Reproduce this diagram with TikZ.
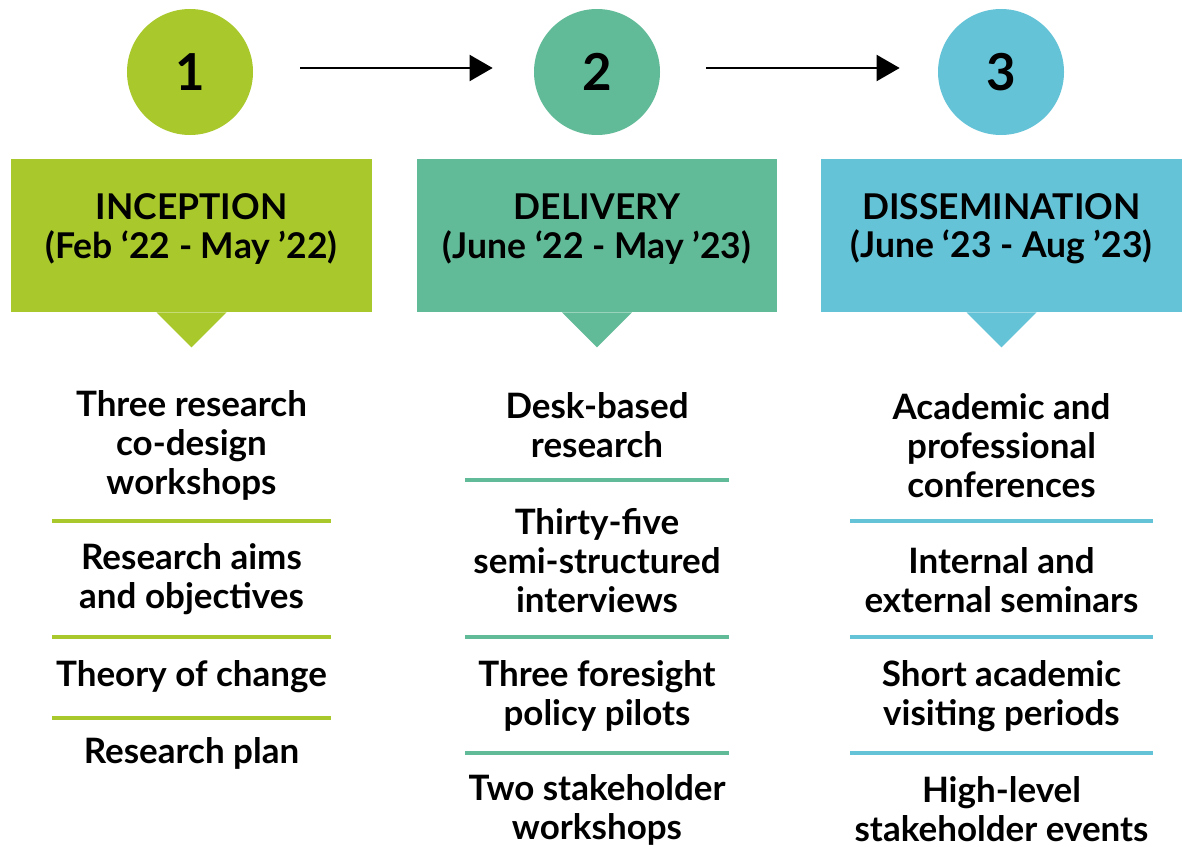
\documentclass[tikz,border=0pt]{standalone}
\usepackage{fontspec}
\setmainfont{Lato}
\usetikzlibrary{arrows.meta}

\definecolor{lime}{RGB}{168,200,43}
\definecolor{jade}{RGB}{98,187,152}
\definecolor{sky}{RGB}{100,195,215}

\begin{document}
\begin{tikzpicture}[x=0.2mm,y=-0.2mm, font=\bfseries]
	\tikzstyle{stage}=[shape=circle,minimum size=25.2mm,inner sep=0pt,font=\fontsize{29}{30}\selectfont\bfseries]
	\tikzstyle{phase}=[shape=rectangle,minimum height=30.6mm,inner sep=0pt]
	\tikzstyle{head}=[align=center,font=\fontsize{20.2}{21.8}\selectfont\bfseries]
	\tikzstyle{item}=[align=center,font=\fontsize{19.9}{22.2}\selectfont\bfseries]
	\tikzstyle{flow}=[line width=0.4mm,-{Triangle[length=4.6mm,width=5.2mm]}]
	\tikzstyle{rule}=[line width=0.8mm]
	
	\useasboundingbox (0,0) rectangle (1182,847);
	
	% stage numbers
	\node[stage,fill=lime](c1) at (190,72){1};
	\node[stage,fill=jade](c2) at (597,72){2};
	\node[stage,fill=sky](c3) at (1001,72){3};
	
	\draw[flow,shorten <=47*0.2mm,shorten >=41*0.2mm] ([yshift=0.8mm]c1.east) -- ([yshift=0.8mm]c2.west);
	\draw[flow,shorten <=46*0.2mm,shorten >=38*0.2mm] ([yshift=0.8mm]c2.east) -- ([yshift=0.8mm]c3.west);
	
	% phase boxes with their pointers
	\node[phase,fill=lime,minimum width=72.2mm](inc) at (191.5,235.5){};
	\node[phase,fill=jade,minimum width=72mm](del) at (597,235.5){};
	\node[phase,fill=sky,minimum width=72.2mm](dis) at (1001.5,235.5){};
	
	\fill[lime] ([xshift=-7mm]inc.south) -- ++(35,35) -- ++(35,-35) -- cycle;
	\fill[jade] ([xshift=-7mm]del.south) -- ++(35,35) -- ++(35,-35) -- cycle;
	\fill[sky] ([xshift=-7mm]dis.south) -- ++(35,35) -- ++(35,-35) -- cycle;
	
	\node[head](incT) at (191.5,229){INCEPTION\\(Feb ‘22 - May ’22)};
	\node[head](delT) at (597,229){DELIVERY\\(June ‘22 - May ’23)};
	\node[head](disT) at (1001.5,229){DISSEMINATION\\(June ‘23 - Aug ’23)};
	
	% inception
	\node[item](i1) at (191.5,445){Three research\\co-design\\workshops};
	\node[item](i2) at (191.5,579.5){Research aims\\and objectives};
	\node[item](i3) at (191.5,677){Theory of change};
	\node[item](i4) at (191.5,753){Research plan};
	
	\coordinate(ia) at (52,521);
	\coordinate(ib) at (52,637);
	\coordinate(ic) at (52,718);
	\draw[rule,lime] (ia) -- ++(279,0);
	\draw[rule,lime] (ib) -- ++(279,0);
	\draw[rule,lime] (ic) -- ++(279,0);
	
	% delivery
	\node[item](d1) at (597,425){Desk-based\\research};
	\node[item](d2) at (597,560.5){Thirty-five\\semi-structured\\interviews};
	\node[item](d3) at (597,696){Three foresight\\policy pilots};
	\node[item](d4) at (597,809.5){Two stakeholder\\workshops};
	
	\coordinate(da) at (465,480);
	\coordinate(db) at (465,637);
	\coordinate(dc) at (465,753);
	\draw[rule,jade] (da) -- ++(264,0);
	\draw[rule,jade] (db) -- ++(264,0);
	\draw[rule,jade] (dc) -- ++(264,0);
	
	% dissemination
	\node[item](s1) at (1001.5,446){Academic and\\professional\\conferences};
	\node[item](s2) at (1001.5,580.5){Internal and\\external seminars};
	\node[item](s3) at (1001.5,696){Short academic\\visiting periods};
	\node[item](s4) at (1001.5,809.5){High-level\\stakeholder events};
	
	\coordinate(sa) at (850,521);
	\coordinate(sb) at (850,637);
	\coordinate(sc) at (850,753);
	\draw[rule,sky] (sa) -- ++(303,0);
	\draw[rule,sky] (sb) -- ++(303,0);
	\draw[rule,sky] (sc) -- ++(303,0);
\end{tikzpicture}
\end{document}
